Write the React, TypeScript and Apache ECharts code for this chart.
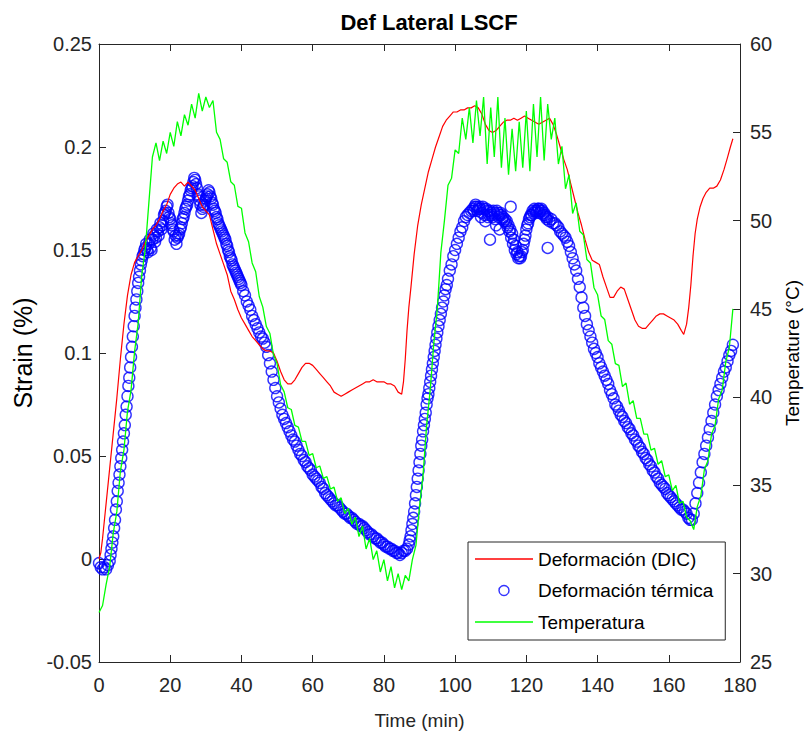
import React, { useEffect, useRef } from "react";
import * as echarts from "echarts";

// Time axis tick values (min)
const timeTicks = [0, 20, 40, 60, 80, 100, 120, 140, 160, 180];

// Deformación (DIC) — [time (min), strain (%)]
const dicStrain: [number, number][] = [
  [0, 0.0], [0.5, 0.003], [1, 0.01], [2, 0.027], [3, 0.044], [4, 0.061], [5, 0.078], [6, 0.097],
  [7, 0.114], [8, 0.128], [9, 0.138], [10, 0.144], [11, 0.147], [12, 0.15], [13, 0.154], [14, 0.157],
  [15, 0.16], [16, 0.162], [17, 0.165], [18, 0.169], [19, 0.172], [20, 0.177], [21, 0.18], [22, 0.182],
  [23, 0.183], [24, 0.181], [25, 0.183], [26, 0.181], [27, 0.179], [28, 0.175], [29, 0.171], [30, 0.169],
  [31, 0.167], [32, 0.16], [33, 0.153], [34, 0.148], [35, 0.143], [36, 0.138], [37, 0.13], [38, 0.126],
  [39, 0.121], [40, 0.117], [41, 0.114], [42, 0.111], [43, 0.108], [44, 0.106], [45, 0.104], [46, 0.102],
  [47, 0.101], [48, 0.101], [49, 0.1], [50, 0.096], [51, 0.091], [52, 0.087], [53, 0.085], [54, 0.085],
  [55, 0.087], [56, 0.09], [57, 0.093], [58, 0.095], [59, 0.095], [60, 0.094], [61, 0.092], [62, 0.09],
  [63, 0.088], [64, 0.086], [65, 0.084], [66, 0.081], [67, 0.08], [68, 0.079], [69, 0.08], [70, 0.081],
  [71, 0.082], [72, 0.083], [73, 0.084], [74, 0.085], [75, 0.086], [76, 0.086], [77, 0.087], [78, 0.086],
  [79, 0.086], [80, 0.086], [81, 0.085], [82, 0.085], [83, 0.084], [84, 0.081], [85, 0.08], [85.5, 0.086],
  [86, 0.097], [86.5, 0.111], [87, 0.122], [87.6, 0.132], [88.5, 0.148], [89.5, 0.162], [90.5, 0.172],
  [91.5, 0.18], [92.5, 0.188], [93.5, 0.194], [94.5, 0.2], [95.5, 0.205], [96.5, 0.21], [97.5, 0.213],
  [98.5, 0.215], [99.5, 0.217], [100.5, 0.217], [101.5, 0.218], [102.5, 0.218], [103.5, 0.219],
  [104.5, 0.219], [105.5, 0.22], [106.5, 0.219], [107.5, 0.216], [108.5, 0.211], [109.5, 0.208],
  [110.5, 0.207], [111.5, 0.208], [112.5, 0.21], [113.5, 0.212], [114.5, 0.213], [115.5, 0.213],
  [116.5, 0.214], [117.5, 0.213], [118.5, 0.214], [119.5, 0.215], [120.5, 0.214], [121.5, 0.213],
  [122.5, 0.212], [123.5, 0.211], [124.5, 0.212], [125.5, 0.213], [126.5, 0.214], [127.5, 0.211],
  [128.5, 0.206], [129.5, 0.2], [130.5, 0.194], [131.5, 0.189], [132.5, 0.182], [133.5, 0.175],
  [134.5, 0.168], [135.5, 0.162], [136.5, 0.155], [137.5, 0.149], [138.5, 0.145], [139.5, 0.144],
  [140.5, 0.143], [141.5, 0.137], [142.5, 0.132], [143.5, 0.127], [144.5, 0.127], [145.5, 0.13],
  [146.5, 0.132], [147.5, 0.131], [148.5, 0.126], [149.5, 0.121], [150.5, 0.116], [151.5, 0.113],
  [152.5, 0.112], [153.5, 0.112], [154.5, 0.114], [155.5, 0.116], [156.5, 0.118], [157.5, 0.119],
  [158.5, 0.119], [159.5, 0.118], [160.5, 0.117], [161.5, 0.116], [162.5, 0.114], [163.5, 0.111],
  [164.2, 0.109], [165, 0.114], [165.6, 0.122], [166.2, 0.133], [166.8, 0.147], [167.4, 0.158],
  [168, 0.165], [168.8, 0.171], [169.6, 0.175], [170.5, 0.178], [171.5, 0.18], [172.5, 0.18],
  [173.5, 0.181], [174.5, 0.184], [175.5, 0.189], [176.5, 0.195], [177.3, 0.2], [178, 0.204],
];

// Deformación térmica — main track [time (min), strain (%)]
const thermalStrain: [number, number][] = [
  [0, -0.002], [0.5, -0.004], [1, -0.005], [1.5, -0.004], [2, -0.005], [2.5, -0.003], [3, -0.001],
  [3.25, 0.002], [3.5, 0.005], [3.75, 0.008], [4, 0.011], [4.25, 0.015], [4.5, 0.019], [4.75, 0.024],
  [5, 0.028], [5.25, 0.033], [5.5, 0.037], [5.75, 0.041], [6, 0.045], [6.25, 0.049], [6.5, 0.053],
  [6.75, 0.057], [7, 0.061], [7.25, 0.065], [7.5, 0.07], [7.75, 0.074], [8, 0.079], [8.25, 0.084],
  [8.5, 0.088], [8.75, 0.093], [9, 0.098], [9.25, 0.103], [9.5, 0.108], [9.75, 0.113], [10, 0.118],
  [10.25, 0.122], [10.5, 0.126], [10.75, 0.13], [11, 0.134], [11.25, 0.137], [11.5, 0.14], [11.75, 0.143],
  [12, 0.145], [12.5, 0.148], [13, 0.151], [13.5, 0.15], [14, 0.153], [14.5, 0.151], [15, 0.155],
  [15.5, 0.157], [16, 0.156], [16.5, 0.159], [17, 0.161], [17.5, 0.16], [18, 0.164], [18.5, 0.168],
  [19, 0.171], [19.5, 0.168], [20, 0.165], [20.5, 0.162], [21, 0.159], [21.5, 0.157], [22, 0.156],
  [22.5, 0.158], [23, 0.161], [23.5, 0.165], [24, 0.168], [24.5, 0.171], [25, 0.174], [25.5, 0.177],
  [26, 0.18], [26.5, 0.183], [27, 0.184], [27.5, 0.18], [28, 0.176], [28.5, 0.172], [29, 0.17],
  [29.5, 0.172], [30, 0.175], [30.5, 0.177], [31, 0.178], [31.5, 0.175], [32, 0.172], [32.5, 0.169],
  [33, 0.166], [33.5, 0.163], [34, 0.161], [34.5, 0.159], [35, 0.157], [35.5, 0.155], [36, 0.152],
  [36.5, 0.149], [37, 0.146], [37.5, 0.143], [38, 0.141], [38.5, 0.139], [39, 0.137], [39.5, 0.135],
  [40, 0.133], [41, 0.128], [42, 0.123], [43, 0.118], [44, 0.114], [45, 0.11], [46, 0.107], [47, 0.103],
  [47.5, 0.099], [48, 0.095], [48.5, 0.091], [49, 0.087], [49.5, 0.083], [50, 0.079], [50.5, 0.076],
  [51, 0.073], [52, 0.068], [53, 0.064], [54, 0.06], [55, 0.057], [56, 0.053], [57, 0.05], [58, 0.047],
  [59, 0.044], [60, 0.041], [61, 0.039], [62, 0.037], [63, 0.034], [64, 0.031], [65, 0.029], [66, 0.027],
  [67, 0.026], [68, 0.024], [69, 0.022], [70, 0.021], [71, 0.02], [72, 0.018], [73, 0.017], [74, 0.016],
  [75, 0.014], [76, 0.012], [77, 0.011], [78, 0.01], [79, 0.008], [80, 0.007], [81, 0.006], [82, 0.005],
  [83, 0.004], [84, 0.003], [85, 0.003], [86, 0.004], [86.5, 0.005], [87, 0.007], [87.25, 0.009],
  [87.5, 0.011], [87.75, 0.014], [88, 0.017], [88.25, 0.02], [88.5, 0.023], [88.75, 0.027], [89, 0.031],
  [89.25, 0.035], [89.5, 0.039], [89.75, 0.043], [90, 0.047], [90.25, 0.051], [90.5, 0.055],
  [90.75, 0.058], [91, 0.062], [91.25, 0.065], [91.5, 0.068], [91.75, 0.071], [92, 0.075],
  [92.25, 0.078], [92.5, 0.08], [92.75, 0.083], [93, 0.086], [93.25, 0.089], [93.5, 0.092],
  [93.75, 0.095], [94, 0.098], [94.25, 0.101], [94.5, 0.104], [94.75, 0.107], [95, 0.11], [95.33, 0.113],
  [95.67, 0.116], [96, 0.119], [96.33, 0.122], [96.67, 0.125], [97, 0.128], [97.33, 0.131],
  [97.67, 0.133], [98, 0.136], [98.5, 0.14], [99, 0.143], [99.5, 0.147], [100, 0.15], [100.5, 0.153],
  [101, 0.156], [101.5, 0.159], [102, 0.161], [102.5, 0.164], [103, 0.166], [103.5, 0.167], [104, 0.168],
  [104.5, 0.169], [105, 0.17], [105.5, 0.171], [106, 0.171], [106.5, 0.17], [107, 0.17], [107.5, 0.168],
  [108, 0.17], [108.5, 0.164], [109, 0.169], [109.5, 0.167], [110, 0.168], [110.5, 0.166], [111, 0.168],
  [111.5, 0.162], [112, 0.168], [112.5, 0.167], [113, 0.167], [113.5, 0.166], [114, 0.165],
  [114.5, 0.164], [115, 0.162], [115.5, 0.16], [116, 0.158], [116.5, 0.155], [117, 0.152], [117.5, 0.149],
  [118, 0.147], [118.5, 0.147], [119, 0.15], [119.5, 0.155], [120, 0.16], [120.5, 0.163], [121, 0.166],
  [121.5, 0.167], [122, 0.168], [122.5, 0.169], [123, 0.169], [123.5, 0.17], [124, 0.169], [124.5, 0.169],
  [125, 0.168], [125.5, 0.166], [126, 0.166], [127, 0.165], [128, 0.163], [129, 0.161], [130, 0.158],
  [131, 0.156], [131.5, 0.154], [132, 0.152], [132.5, 0.149], [133, 0.146], [133.5, 0.143], [134, 0.14],
  [134.5, 0.136], [135, 0.132], [135.5, 0.127], [136, 0.122], [136.5, 0.118], [137, 0.114], [137.5, 0.111],
  [138, 0.108], [138.5, 0.105], [139, 0.102], [139.5, 0.1], [140, 0.098], [141, 0.093], [142, 0.089],
  [143, 0.085], [144, 0.08], [145, 0.075], [146, 0.072], [147, 0.069], [148, 0.066], [149, 0.063],
  [150, 0.06], [151, 0.057], [152, 0.054], [153, 0.051], [154, 0.048], [155, 0.045], [156, 0.042],
  [157, 0.039], [158, 0.036], [159, 0.034], [160, 0.031], [161, 0.029], [162, 0.027], [163, 0.025],
  [164, 0.024], [165, 0.022], [165.5, 0.02], [166, 0.019], [166.5, 0.019], [167, 0.022], [167.5, 0.027],
  [168, 0.032], [168.5, 0.037], [169, 0.042], [169.5, 0.047], [170, 0.051], [170.5, 0.055], [171, 0.059],
  [171.5, 0.063], [172, 0.067], [172.5, 0.071], [173, 0.075], [173.5, 0.079], [174, 0.082], [174.5, 0.085],
  [175, 0.088], [175.5, 0.091], [176, 0.093], [176.5, 0.096], [177, 0.099], [177.5, 0.101], [178, 0.104],
];

// Deformación térmica — in-between readings and scatter around the track
const thermalStrainScatter: [number, number][] = [
  [12.25, 0.147], [12.75, 0.15], [13.25, 0.153], [13.75, 0.149], [14.25, 0.155], [14.75, 0.15],
  [15.25, 0.158], [15.75, 0.154], [16.25, 0.16], [16.75, 0.157], [17.25, 0.163], [17.75, 0.162],
  [18.25, 0.167], [18.75, 0.169], [19.25, 0.172], [19.75, 0.166], [20.25, 0.163], [20.75, 0.16],
  [21.25, 0.155], [21.75, 0.153], [22.25, 0.157], [22.75, 0.16], [23.25, 0.163], [23.75, 0.166],
  [24.25, 0.17], [24.75, 0.172], [25.25, 0.176], [25.75, 0.179], [26.25, 0.181], [26.75, 0.185],
  [27.25, 0.182], [27.75, 0.177], [28.25, 0.174], [28.75, 0.168], [29.25, 0.171], [29.75, 0.174],
  [30.25, 0.176], [30.75, 0.179], [31.25, 0.176], [31.75, 0.173], [32.25, 0.17], [32.75, 0.168],
  [33.25, 0.165], [33.75, 0.162], [34.25, 0.16], [34.75, 0.158], [35.25, 0.156], [35.75, 0.153],
  [36.25, 0.15], [36.75, 0.147], [37.25, 0.145], [37.75, 0.142], [38.25, 0.14], [38.75, 0.138],
  [39.25, 0.136], [39.75, 0.134], [40.5, 0.13], [41.5, 0.125], [42.5, 0.121], [43.5, 0.116],
  [44.5, 0.112], [45.5, 0.108], [46.5, 0.105], [51.5, 0.07], [52.5, 0.066], [53.5, 0.062],
  [54.5, 0.058], [55.5, 0.055], [56.5, 0.051], [57.5, 0.048], [58.5, 0.045], [59.5, 0.043],
  [60.5, 0.04], [61.5, 0.038], [62.5, 0.035], [63.5, 0.032], [64.5, 0.03], [65.5, 0.028],
  [66.5, 0.026], [67.5, 0.025], [68.5, 0.023], [69.5, 0.022], [70.5, 0.02], [71.5, 0.019],
  [72.5, 0.017], [73.5, 0.016], [74.5, 0.015], [75.5, 0.013], [76.5, 0.012], [77.5, 0.01],
  [78.5, 0.009], [79.5, 0.008], [80.5, 0.006], [81.5, 0.005], [82.5, 0.004], [83.5, 0.003],
  [84.5, 0.002], [85.5, 0.004], [105.25, 0.169], [105.75, 0.172], [106.25, 0.169], [106.75, 0.171],
  [107.25, 0.166], [107.75, 0.171], [108.25, 0.167], [108.75, 0.17], [109.25, 0.166], [109.75, 0.169],
  [109.8, 0.155], [110.25, 0.167], [110.75, 0.169], [111.25, 0.165], [111.75, 0.169], [112.25, 0.166],
  [112.5, 0.16], [112.75, 0.168], [113.25, 0.165], [113.75, 0.164], [114.25, 0.163], [114.75, 0.161],
  [115.25, 0.159], [115.6, 0.171], [115.75, 0.156], [116.25, 0.153], [116.75, 0.15], [117.25, 0.148],
  [117.75, 0.146], [118.25, 0.146], [118.75, 0.149], [119.25, 0.153], [119.75, 0.157], [120.25, 0.162],
  [120.75, 0.165], [121.25, 0.167], [121.75, 0.169], [122.25, 0.17], [122.75, 0.168], [123.25, 0.17],
  [123.75, 0.168], [124.25, 0.17], [124.75, 0.167], [125.25, 0.167], [125.75, 0.165], [126, 0.151],
  [126.5, 0.164], [127.5, 0.163], [128.5, 0.162], [129.5, 0.159], [130.5, 0.157], [140.5, 0.095],
  [141.5, 0.091], [142.5, 0.087], [143.5, 0.082], [144.5, 0.078], [145.5, 0.074], [146.5, 0.07],
  [147.5, 0.067], [148.5, 0.064], [149.5, 0.061], [150.5, 0.058], [151.5, 0.055], [152.5, 0.052],
  [153.5, 0.049], [154.5, 0.046], [155.5, 0.043], [156.5, 0.04], [157.5, 0.037], [158.5, 0.035],
  [159.5, 0.032], [160.5, 0.03], [161.5, 0.028], [162.5, 0.026], [163.5, 0.024], [164.5, 0.023],
];

// Temperatura (°C), one reading per minute from t = 0 to t = 178 min
const temperature = [
  27.8, 28.2, 29.4, 30.4, 32.3, 33.5, 35.8, 37.0, 39.2, 40.4,
  42.6, 44.2, 46.9, 48.4, 51.0, 53.6, 54.4, 53.4, 54.5, 53.8,
  55.0, 54.2, 55.6, 54.8, 56.0, 55.4, 56.6, 55.8, 57.2, 56.2,
  57.0, 56.4, 56.8, 55.0, 54.6, 53.5, 53.3, 52.2, 52.0, 50.8,
  50.7, 49.3, 48.8, 47.6, 47.1, 45.7, 45.1, 44.0, 43.6, 42.4,
  41.9, 40.7, 40.3, 39.4, 39.3, 38.4, 38.3, 37.5, 37.5, 36.7,
  36.8, 36.0, 36.1, 35.4, 35.5, 34.8, 34.9, 34.1, 34.3, 33.4,
  33.7, 32.8, 33.2, 32.1, 32.7, 31.4, 32.0, 30.8, 31.3, 30.1,
  30.8, 29.6, 30.4, 29.2, 30.0, 29.1, 29.9, 29.6, 30.8, 31.6,
  33.8, 35.6, 38.4, 40.4, 43.0, 45.0, 48.2, 50.0, 52.0, 52.4,
  54.0, 53.8, 55.8, 54.6, 56.4, 54.4, 56.8, 54.8, 57.0, 53.2,
  56.4, 53.6, 57.0, 53.0, 55.8, 52.6, 55.2, 52.8, 55.6, 53.0,
  56.2, 52.8, 56.6, 53.6, 57.0, 53.4, 56.6, 54.6, 55.8, 53.2,
  54.2, 51.8, 52.6, 50.4, 51.0, 49.4, 49.2, 47.8, 47.6, 46.2,
  45.8, 44.6, 44.4, 43.2, 43.0, 41.9, 41.8, 40.6, 40.8, 39.6,
  39.8, 38.8, 38.8, 37.9, 37.9, 37.0, 37.1, 36.2, 36.4, 35.5,
  35.6, 34.7, 35.0, 34.0, 34.1, 33.2, 33.0, 32.5, 33.8, 34.4,
  35.9, 36.4, 37.9, 38.4, 39.9, 40.4, 42.0, 42.8, 45.0,
];

const FONT = "'Liberation Sans', Arial, Helvetica, sans-serif";
const AXIS_COLOR = "#262626";
const LINE_ICON = "path://M0,0H58V1.3H0Z";

export default function App() {
  const ref = useRef<HTMLDivElement>(null);

  useEffect(() => {
    if (!ref.current) return;
    const chart = echarts.init(ref.current, null, { renderer: "svg" });

    const tempData = temperature.map((v, i) => [i, v]);
    const thermalData = [...thermalStrain, ...thermalStrainScatter];

    const axisCommon = {
      axisLine: { show: true, onZero: false, lineStyle: { color: AXIS_COLOR, width: 1 } },
      axisTick: { show: true, inside: true, length: 7, lineStyle: { color: AXIS_COLOR, width: 1 } },
      splitLine: { show: false },
    };

    chart.setOption({
      animation: false,
      backgroundColor: "#ffffff",
      title: {
        text: "Def Lateral LSCF",
        left: 424,
        top: 6,
        textAlign: "center",
        textStyle: { fontFamily: FONT, fontSize: 22, fontWeight: "bold", color: "#000000" },
      },
      grid: {
        left: 99,
        right: 66,
        top: 44,
        bottom: 74,
        containLabel: false,
        outerBoundsMode: "none",
      },
      legend: {
        orient: "vertical",
        left: 468,
        top: 542,
        padding: [7, 12, 8, 7],
        itemWidth: 58,
        itemHeight: 10,
        itemGap: 11.5,
        backgroundColor: "#ffffff",
        borderColor: AXIS_COLOR,
        borderWidth: 1,
        borderRadius: 0,
        textStyle: { fontFamily: FONT, fontSize: 19, lineHeight: 20, color: "#000000" },
        data: [
          { name: "Deformación (DIC)", icon: LINE_ICON, itemStyle: { color: "#FF0000" } },
          {
            name: "Deformación térmica",
            icon: "circle",
            itemStyle: { color: "rgba(0,0,0,0)", borderColor: "#0000FF", borderWidth: 1.4 },
          },
          { name: "Temperatura", icon: LINE_ICON, itemStyle: { color: "#00FF00" } },
        ],
      },
      xAxis: [
        {
          type: "value",
          min: 0,
          max: 180,
          interval: 20,
          name: "Time (min)",
          nameLocation: "middle",
          nameGap: 49,
          nameTextStyle: { fontFamily: FONT, fontSize: 19, color: AXIS_COLOR },
          axisLabel: {
            margin: 13,
            fontFamily: FONT,
            fontSize: 20,
            color: AXIS_COLOR,
            formatter: (v: number) => (timeTicks.includes(v) ? String(v) : ""),
          },
          ...axisCommon,
        },
        {
          type: "value",
          position: "top",
          min: 0,
          max: 180,
          interval: 20,
          axisLabel: { show: false },
          ...axisCommon,
        },
      ],
      yAxis: [
        {
          type: "value",
          position: "left",
          min: -0.05,
          max: 0.25,
          interval: 0.05,
          name: "Strain (%)",
          nameLocation: "middle",
          nameRotate: 90,
          nameGap: 61,
          nameTextStyle: { fontFamily: FONT, fontSize: 25, color: "#000000" },
          axisLabel: {
            margin: 7,
            fontFamily: FONT,
            fontSize: 20,
            color: AXIS_COLOR,
            formatter: (v: number) => String(parseFloat(v.toFixed(2))),
          },
          ...axisCommon,
        },
        {
          type: "value",
          position: "right",
          min: 25,
          max: 60,
          interval: 5,
          name: "Temperature (°C)",
          nameLocation: "middle",
          nameRotate: 90,
          nameGap: 42,
          nameTextStyle: { fontFamily: FONT, fontSize: 19, color: "#000000" },
          axisLabel: { margin: 10, fontFamily: FONT, fontSize: 20, color: AXIS_COLOR },
          ...axisCommon,
        },
      ],
      series: [
        {
          name: "Deformación (DIC)",
          type: "line",
          xAxisIndex: 0,
          yAxisIndex: 0,
          data: dicStrain,
          symbol: "none",
          lineStyle: { color: "#FF0000", width: 1.2 },
          itemStyle: { color: "#FF0000" },
        },
        {
          name: "Deformación térmica",
          type: "scatter",
          xAxisIndex: 0,
          yAxisIndex: 0,
          data: thermalData,
          symbol: "circle",
          symbolSize: 11,
          itemStyle: { color: "rgba(0,0,0,0)", borderColor: "#0000FF", borderWidth: 1.4 },
        },
        {
          name: "Temperatura",
          type: "line",
          xAxisIndex: 0,
          yAxisIndex: 1,
          data: tempData,
          symbol: "none",
          lineStyle: { color: "#00FF00", width: 1.3 },
          itemStyle: { color: "#00FF00" },
        },
      ],
    });

    return () => chart.dispose();
  }, []);

  return (
    <div
      ref={ref}
      style={{ position: "fixed", left: 0, top: 0, width: 806, height: 736, background: "#fff" }}
    />
  );
}
